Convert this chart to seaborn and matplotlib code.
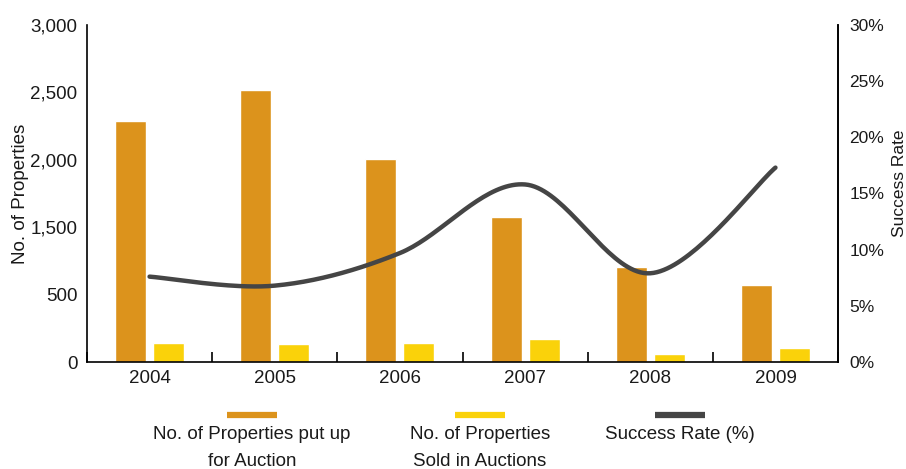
import numpy as np
import pandas as pd
import matplotlib
matplotlib.use("Agg")
import matplotlib.pyplot as plt
from matplotlib.lines import Line2D
from matplotlib.ticker import FixedLocator, FixedFormatter
import seaborn as sns

# ---- data ----
years = ["2004", "2005", "2006", "2007", "2008", "2009"]
put_up = [2143, 2420, 1804, 1295, 848, 688]
sold = [170, 161, 170, 205, 71, 125]
success_rate = [7.6, 6.8, 9.7, 15.8, 7.9, 17.3]

left_tick_values = [0, 600, 1200, 1800, 2400, 3000]
left_tick_labels = ["0", "500", "1,500", "2,000", "2,500", "3,000"]
right_tick_values = [0, 5, 10, 15, 20, 25, 30]
right_tick_labels = ["0%", "5%", "10%", "15%", "20%", "25%", "30%"]

series_put = "No. of Properties put up\nfor Auction"
series_sold = "No. of Properties\nSold in Auctions"
series_rate = "Success Rate (%)"

ORANGE = "#DC931C"
YELLOW = "#FAD20A"
GREY = "#454545"
TEXT = "#1a1a1a"
FS = 13.5

sns.set_theme(style="white")
plt.rcParams["font.family"] = ["Liberation Sans", "DejaVu Sans"]

df = pd.DataFrame({
    "year": years * 2,
    "count": put_up + sold,
    "series": [series_put] * len(years) + [series_sold] * len(years),
})

fig = plt.figure(figsize=(9.06, 4.69), dpi=100)
ax = fig.add_axes([0.096, 0.228, 0.829, 0.719])

sns.barplot(data=df, x="year", y="count", hue="series",
            palette=[ORANGE, YELLOW], width=0.608, gap=0.184,
            saturation=1, legend=False, ax=ax)

ax.set_xlim(-0.5, len(years) - 0.5)
ax.set_ylim(0, 3000)
ax.yaxis.set_major_locator(FixedLocator(left_tick_values))
ax.yaxis.set_major_formatter(FixedFormatter(left_tick_labels))
ax.tick_params(axis="y", length=0, labelsize=FS, labelcolor=TEXT, pad=7)
ax.tick_params(axis="x", which="major", length=0, labelsize=FS,
               labelcolor=TEXT, pad=6)
ax.set_xticks(np.arange(-0.5, len(years)), minor=True)
ax.tick_params(axis="x", which="minor", direction="in", length=7,
               width=1.2, color="black", bottom=True)
ax.set_xlabel("")
ax.set_ylabel("No. of Properties", fontsize=FS, color=TEXT, labelpad=1)
for s in ["left", "bottom", "right"]:
    ax.spines[s].set_color("black")
    ax.spines[s].set_linewidth(1.2)
ax.spines["top"].set_visible(False)

# ---- smoothed success-rate curve on the secondary axis ----
ax2 = ax.twinx()
pts = np.column_stack([np.arange(len(years)), success_rate]).astype(float)
ext = np.vstack([pts[0], pts, pts[-1]])
curve = []
for i in range(1, len(ext) - 2):
    p0, p1, p2, p3 = ext[i - 1], ext[i], ext[i + 1], ext[i + 2]
    t = np.linspace(0, 1, 40)[:, None]
    seg = 0.5 * ((2 * p1) + (-p0 + p2) * t
                 + (2 * p0 - 5 * p1 + 4 * p2 - p3) * t ** 2
                 + (-p0 + 3 * p1 - 3 * p2 + p3) * t ** 3)
    curve.append(seg if i == 1 else seg[1:])
curve = np.vstack(curve)
curve_df = pd.DataFrame({"x": curve[:, 0], "rate": curve[:, 1]})
sns.lineplot(data=curve_df, x="x", y="rate", sort=False, color=GREY,
             linewidth=3.2, ax=ax2)

ax2.set_ylim(0, 30)
ax2.yaxis.set_major_locator(FixedLocator(right_tick_values))
ax2.yaxis.set_major_formatter(FixedFormatter(right_tick_labels))
ax2.tick_params(axis="y", length=0, labelsize=12.5, labelcolor=TEXT, pad=8)
ax2.set_ylabel("Success Rate", fontsize=12.5, color=TEXT,
               va="center", ha="center")
ax2.yaxis.set_label_coords(1.0815, 0.53)
ax2.set_xlabel("")
ax2.set_xlim(-0.5, len(years) - 0.5)
for s in ["top", "left", "bottom"]:
    ax2.spines[s].set_visible(False)
ax2.spines["right"].set_color("black")
ax2.spines["right"].set_linewidth(1.2)
ax2.grid(False)
ax.grid(False)

# ---- legend row beneath the plot ----
W, H = 906, 469
legend_items = [(series_put, ORANGE, 252), (series_sold, YELLOW, 480),
                (series_rate, GREY, 680)]
for label, color, cx in legend_items:
    fig.add_artist(Line2D([(cx - 25) / W, (cx + 25) / W],
                          [1 - 415 / H, 1 - 415 / H],
                          color=color, linewidth=4.5,
                          solid_capstyle="butt"))
    fig.text(cx / W, 1 - 426 / H, label, ha="center", va="top",
             fontsize=FS, color=TEXT, linespacing=1.75)

fig.savefig("out.png", dpi=100)
